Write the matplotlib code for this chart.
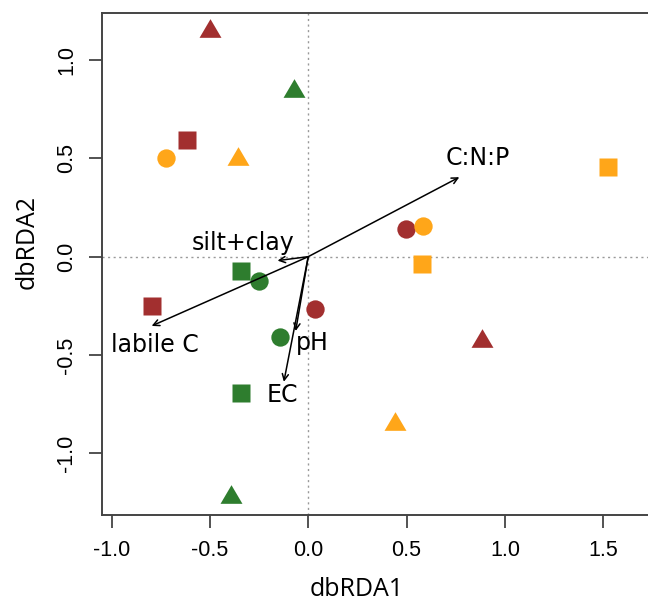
import matplotlib.pyplot as plt
import numpy as np
from matplotlib.path import Path

# Datos ------------------------------------------

# site scores (dbRDA1, dbRDA2)
red_x = [-0.50, -0.618, 0.495, 0.034, -0.796, 0.882]
red_y = [1.163, 0.593, 0.139, -0.267, -0.251, -0.415]
red_shape = ['tri', 'sq', 'ci', 'ci', 'sq', 'tri']

green_x = [-0.073, -0.342, -0.249, -0.144, -0.344, -0.395]
green_y = [0.856, -0.073, -0.122, -0.407, -0.695, -1.208]
green_shape = ['tri', 'sq', 'ci', 'ci', 'sq', 'tri']

orange_x = [-0.725, -0.356, 0.581, 0.576, 1.525, 0.441]
orange_y = [0.50, 0.514, 0.158, -0.037, 0.458, -0.835]
orange_shape = ['ci', 'tri', 'ci', 'sq', 'sq', 'tri']

# environmental vectors
env_names = ['C:N:P', 'silt+clay', 'labile C', 'pH', 'EC']
env_x = [0.768, -0.156, -0.796, -0.064, -0.124]
env_y = [0.404, -0.020, -0.352, -0.378, -0.636]
lab_x = [0.864, -0.33, -0.78, 0.022, -0.13]
lab_y = [0.50, 0.071, -0.45, -0.44, -0.703]

xticks = [-1.0, -0.5, 0.0, 0.5, 1.0, 1.5]
yticks = [-1.0, -0.5, 0.0, 0.5, 1.0]

# Figura ------------------------------------------

fig = plt.figure(figsize=(6.48, 6.04), dpi=100)
ax = fig.add_axes([101.7 / 648, 89 / 604, 560.6 / 648, 502.3 / 604])

tri = Path([(-1, -0.85), (1, -0.85), (0, 0.85), (-1, -0.85)])
markers = {'tri': (tri, 15.8), 'sq': ('s', 12.5), 'ci': ('o', 13.2)}

ax.axhline(0, color='#999999', lw=1, ls=(0, (1.5, 2.5)), zorder=1)
ax.axvline(0, color='#999999', lw=1, ls=(0, (1.5, 2.5)), zorder=1)

for xs, ys, shapes, col in [(red_x, red_y, red_shape, '#A22F2F'),
                            (green_x, green_y, green_shape, '#2E7D2E'),
                            (orange_x, orange_y, orange_shape, '#FFA619')]:
    for x, y, s in zip(xs, ys, shapes):
        m, ms = markers[s]
        ax.plot(x, y, marker=m, ms=ms, color=col, mec='none', ls='none', zorder=3)

for name, x, y, lx, ly in zip(env_names, env_x, env_y, lab_x, lab_y):
    ax.annotate('', xy=(x, y), xytext=(0, 0),
                arrowprops=dict(arrowstyle='->', lw=1.1, color='black',
                                shrinkA=0, shrinkB=0, mutation_scale=11), zorder=4)
    ax.text(lx, ly, name, ha='center', va='center', fontsize=17,
            family='DejaVu Sans', zorder=5)

ax.set_xlim(-1.05, 1.80)
ax.set_ylim(-1.313, 1.240)
ax.set_xticks(xticks)
ax.set_yticks(yticks)
ax.set_xticklabels(['%.1f' % v for v in xticks], family='Liberation Sans', fontsize=15.5)
ax.set_yticklabels(['%.1f' % v for v in yticks], family='Liberation Sans', fontsize=15.5,
                   rotation=90, va='center')
ax.tick_params(axis='both', length=9.6, width=1.3, color='#444444')
ax.tick_params(axis='x', pad=8.5)
ax.tick_params(axis='y', pad=8)
for sp in ax.spines.values():
    sp.set_color('#444444')
    sp.set_linewidth(1.4)
ax.spines['right'].set_visible(False)

fig.text(357 / 648, 1 - 596 / 604, 'dbRDA1', ha='center', va='baseline',
         fontsize=18, family='Open Sans')
fig.text(27.5 / 648, 1 - 241.7 / 604, 'dbRDA2', ha='center', va='center',
         fontsize=18, family='Open Sans', rotation=90)

plt.savefig('out.png', dpi=100)
plt.close()
